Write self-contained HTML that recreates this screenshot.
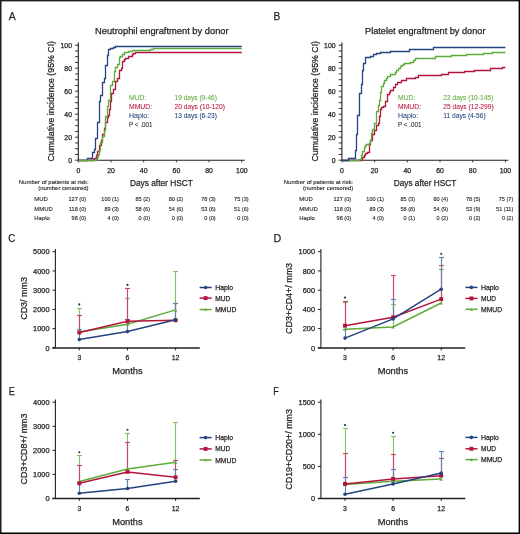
<!DOCTYPE html>
<html><head><meta charset="utf-8"><title>Figure</title><style>html,body{margin:0;padding:0;background:#fff;width:520px;height:534px;overflow:hidden;}body{position:relative;font-family:"Liberation Sans", sans-serif;}</style></head><body>
<svg width="520" height="534" viewBox="0 0 520 534" style="position:absolute;left:0;top:0;font-family:'Liberation Sans', sans-serif;will-change:transform;">
<rect x="0" y="0" width="520" height="534" fill="#ffffff"/>
<text x="8.80" y="19.80" font-size="11.2" text-anchor="start" fill="#231f20" stroke="#231f20" stroke-width="0.25" textLength="7.00" lengthAdjust="spacingAndGlyphs">A</text>
<text x="95.00" y="33.90" font-size="9.0" text-anchor="start" fill="#231f20" stroke="#231f20" stroke-width="0.25" textLength="133.60" lengthAdjust="spacingAndGlyphs">Neutrophil engraftment by donor</text>
<text transform="translate(54.10,101.30) rotate(-90)" x="0" y="0" font-size="9.4" text-anchor="middle" fill="#231f20" stroke="#231f20" stroke-width="0.25" textLength="120.60" lengthAdjust="spacingAndGlyphs">Cumulative incidence (95% CI)</text>
<line x1="78.30" y1="42.50" x2="78.30" y2="160.70" stroke="#231f20" stroke-width="1.1"/>
<line x1="75.10" y1="160.20" x2="78.30" y2="160.20" stroke="#231f20" stroke-width="0.9"/>
<line x1="75.10" y1="154.45" x2="78.30" y2="154.45" stroke="#231f20" stroke-width="0.9"/>
<line x1="75.10" y1="148.70" x2="78.30" y2="148.70" stroke="#231f20" stroke-width="0.9"/>
<line x1="75.10" y1="142.95" x2="78.30" y2="142.95" stroke="#231f20" stroke-width="0.9"/>
<line x1="75.10" y1="137.20" x2="78.30" y2="137.20" stroke="#231f20" stroke-width="0.9"/>
<line x1="75.10" y1="131.45" x2="78.30" y2="131.45" stroke="#231f20" stroke-width="0.9"/>
<line x1="75.10" y1="125.70" x2="78.30" y2="125.70" stroke="#231f20" stroke-width="0.9"/>
<line x1="75.10" y1="119.95" x2="78.30" y2="119.95" stroke="#231f20" stroke-width="0.9"/>
<line x1="75.10" y1="114.20" x2="78.30" y2="114.20" stroke="#231f20" stroke-width="0.9"/>
<line x1="75.10" y1="108.45" x2="78.30" y2="108.45" stroke="#231f20" stroke-width="0.9"/>
<line x1="75.10" y1="102.70" x2="78.30" y2="102.70" stroke="#231f20" stroke-width="0.9"/>
<line x1="75.10" y1="96.95" x2="78.30" y2="96.95" stroke="#231f20" stroke-width="0.9"/>
<line x1="75.10" y1="91.20" x2="78.30" y2="91.20" stroke="#231f20" stroke-width="0.9"/>
<line x1="75.10" y1="85.45" x2="78.30" y2="85.45" stroke="#231f20" stroke-width="0.9"/>
<line x1="75.10" y1="79.70" x2="78.30" y2="79.70" stroke="#231f20" stroke-width="0.9"/>
<line x1="75.10" y1="73.95" x2="78.30" y2="73.95" stroke="#231f20" stroke-width="0.9"/>
<line x1="75.10" y1="68.20" x2="78.30" y2="68.20" stroke="#231f20" stroke-width="0.9"/>
<line x1="75.10" y1="62.45" x2="78.30" y2="62.45" stroke="#231f20" stroke-width="0.9"/>
<line x1="75.10" y1="56.70" x2="78.30" y2="56.70" stroke="#231f20" stroke-width="0.9"/>
<line x1="75.10" y1="50.95" x2="78.30" y2="50.95" stroke="#231f20" stroke-width="0.9"/>
<line x1="75.10" y1="45.20" x2="78.30" y2="45.20" stroke="#231f20" stroke-width="0.9"/>
<text x="72.00" y="162.65" font-size="6.9" text-anchor="end" fill="#231f20" stroke="#231f20" stroke-width="0.25">0</text>
<text x="72.00" y="139.65" font-size="6.9" text-anchor="end" fill="#231f20" stroke="#231f20" stroke-width="0.25">20</text>
<text x="72.00" y="116.65" font-size="6.9" text-anchor="end" fill="#231f20" stroke="#231f20" stroke-width="0.25">40</text>
<text x="72.00" y="93.65" font-size="6.9" text-anchor="end" fill="#231f20" stroke="#231f20" stroke-width="0.25">60</text>
<text x="72.00" y="70.65" font-size="6.9" text-anchor="end" fill="#231f20" stroke="#231f20" stroke-width="0.25">80</text>
<text x="72.00" y="47.65" font-size="6.9" text-anchor="end" fill="#231f20" stroke="#231f20" stroke-width="0.25">100</text>
<line x1="77.80" y1="160.20" x2="244.80" y2="160.20" stroke="#231f20" stroke-width="1.1"/>
<line x1="78.30" y1="160.20" x2="78.30" y2="162.40" stroke="#231f20" stroke-width="0.9"/>
<text x="78.30" y="173.00" font-size="6.9" text-anchor="middle" fill="#231f20" stroke="#231f20" stroke-width="0.25">0</text>
<line x1="111.00" y1="160.20" x2="111.00" y2="162.40" stroke="#231f20" stroke-width="0.9"/>
<text x="111.00" y="173.00" font-size="6.9" text-anchor="middle" fill="#231f20" stroke="#231f20" stroke-width="0.25">20</text>
<line x1="143.70" y1="160.20" x2="143.70" y2="162.40" stroke="#231f20" stroke-width="0.9"/>
<text x="143.70" y="173.00" font-size="6.9" text-anchor="middle" fill="#231f20" stroke="#231f20" stroke-width="0.25">40</text>
<line x1="176.40" y1="160.20" x2="176.40" y2="162.40" stroke="#231f20" stroke-width="0.9"/>
<text x="176.40" y="173.00" font-size="6.9" text-anchor="middle" fill="#231f20" stroke="#231f20" stroke-width="0.25">60</text>
<line x1="209.10" y1="160.20" x2="209.10" y2="162.40" stroke="#231f20" stroke-width="0.9"/>
<text x="209.10" y="173.00" font-size="6.9" text-anchor="middle" fill="#231f20" stroke="#231f20" stroke-width="0.25">80</text>
<line x1="241.80" y1="160.20" x2="241.80" y2="162.40" stroke="#231f20" stroke-width="0.9"/>
<text x="241.80" y="173.00" font-size="6.9" text-anchor="middle" fill="#231f20" stroke="#231f20" stroke-width="0.25">100</text>
<path d="M78.50,160.50H87.50V158.50H92.50V152.50H94.50V149.50H95.50V138.50H97.50V122.50H99.50V101.50H100.50V95.50H102.50V82.50H104.50V78.50H105.50V65.50H107.50V55.50H108.50V49.50H110.50V48.50H113.50V47.50H115.50V46.50H241.80" fill="none" stroke="#25437f" stroke-width="1.3" stroke-linejoin="miter" stroke-linecap="butt"/>
<path d="M78.50,160.50H93.50V159.50H94.50V158.50H96.50V155.50H97.50V151.50H99.50V145.50H101.50V140.50H102.50V134.50H104.50V128.50H105.50V122.50H107.50V117.50H108.50V115.50H109.50V109.50H110.50V101.50H111.50V93.50H113.50V89.50H115.50V81.50H117.50V78.50H119.50V70.50H121.50V68.50H122.50V61.50H124.50V59.50H125.50V58.50H128.50V56.50H132.50V54.50H133.50V53.50H135.50V52.50H138.50V52.50H241.80" fill="none" stroke="#b3143d" stroke-width="1.3" stroke-linejoin="miter" stroke-linecap="butt"/>
<path d="M78.50,160.50H96.50V159.50H97.50V157.50H98.50V156.50H98.50V154.50H99.50V153.50H99.50V150.50H100.50V142.50H102.50V136.50H104.50V130.50H105.50V116.50H107.50V106.50H108.50V100.50H110.50V85.50H112.50V81.50H114.50V71.50H115.50V67.50H117.50V64.50H119.50V57.50H120.50V56.50H122.50V54.50H124.50V52.50H128.50V51.50H132.50V50.50H150.50V49.50H153.50V48.50H241.80" fill="none" stroke="#5eab3b" stroke-width="1.3" stroke-linejoin="miter" stroke-linecap="butt"/>
<text x="129.00" y="99.70" font-size="7.0" text-anchor="start" fill="#5eab3b" stroke="#5eab3b" stroke-width="0.06" textLength="17.30" lengthAdjust="spacingAndGlyphs">MUD:</text>
<text x="129.00" y="108.60" font-size="7.0" text-anchor="start" fill="#b3143d" stroke="#b3143d" stroke-width="0.06" textLength="23.10" lengthAdjust="spacingAndGlyphs">MMUD:</text>
<text x="129.00" y="117.60" font-size="7.0" text-anchor="start" fill="#25437f" stroke="#25437f" stroke-width="0.06" textLength="20.20" lengthAdjust="spacingAndGlyphs">Haplo:</text>
<text x="129.00" y="126.50" font-size="7.0" text-anchor="start" fill="#231f20" stroke="#231f20" stroke-width="0.06" textLength="23.50" lengthAdjust="spacingAndGlyphs">P &lt; .001</text>
<text x="174.60" y="99.70" font-size="7.0" text-anchor="start" fill="#5eab3b" stroke="#5eab3b" stroke-width="0.06" textLength="42.30" lengthAdjust="spacingAndGlyphs">19 days (9-46)</text>
<text x="174.60" y="108.60" font-size="7.0" text-anchor="start" fill="#b3143d" stroke="#b3143d" stroke-width="0.06" textLength="50.40" lengthAdjust="spacingAndGlyphs">20 days (10-120)</text>
<text x="174.60" y="117.60" font-size="7.0" text-anchor="start" fill="#25437f" stroke="#25437f" stroke-width="0.06" textLength="42.30" lengthAdjust="spacingAndGlyphs">13 days (6-23)</text>
<text x="130.00" y="186.40" font-size="9.0" text-anchor="start" fill="#231f20" stroke="#231f20" stroke-width="0.25" textLength="62.80" lengthAdjust="spacingAndGlyphs">Days after HSCT</text>
<text x="88.60" y="183.50" font-size="5.95" text-anchor="end" fill="#231f20" stroke="#231f20" stroke-width="0.12" textLength="69.80" lengthAdjust="spacingAndGlyphs">Number of patients at risk:</text>
<text x="88.60" y="190.40" font-size="5.95" text-anchor="end" fill="#231f20" stroke="#231f20" stroke-width="0.12" textLength="50.40" lengthAdjust="spacingAndGlyphs">(number censored)</text>
<text x="34.30" y="201.00" font-size="6.0" text-anchor="start" fill="#231f20" stroke="#231f20" stroke-width="0.12" textLength="13.53" lengthAdjust="spacingAndGlyphs">MUD</text>
<text x="86.10" y="201.00" font-size="6.0" text-anchor="end" fill="#231f20" stroke="#231f20" stroke-width="0.12" textLength="17.60" lengthAdjust="spacingAndGlyphs">127 (0)</text>
<text x="118.90" y="201.00" font-size="6.0" text-anchor="end" fill="#231f20" stroke="#231f20" stroke-width="0.12" textLength="17.60" lengthAdjust="spacingAndGlyphs">100 (1)</text>
<text x="150.00" y="201.00" font-size="6.0" text-anchor="end" fill="#231f20" stroke="#231f20" stroke-width="0.12" textLength="14.51" lengthAdjust="spacingAndGlyphs">85 (2)</text>
<text x="183.20" y="201.00" font-size="6.0" text-anchor="end" fill="#231f20" stroke="#231f20" stroke-width="0.12" textLength="14.51" lengthAdjust="spacingAndGlyphs">80 (2)</text>
<text x="215.70" y="201.00" font-size="6.0" text-anchor="end" fill="#231f20" stroke="#231f20" stroke-width="0.12" textLength="14.51" lengthAdjust="spacingAndGlyphs">78 (3)</text>
<text x="248.60" y="201.00" font-size="6.0" text-anchor="end" fill="#231f20" stroke="#231f20" stroke-width="0.12" textLength="14.51" lengthAdjust="spacingAndGlyphs">75 (3)</text>
<text x="34.30" y="210.70" font-size="6.0" text-anchor="start" fill="#231f20" stroke="#231f20" stroke-width="0.12" textLength="18.48" lengthAdjust="spacingAndGlyphs">MMUD</text>
<text x="86.10" y="210.70" font-size="6.0" text-anchor="end" fill="#231f20" stroke="#231f20" stroke-width="0.12" textLength="17.19" lengthAdjust="spacingAndGlyphs">118 (0)</text>
<text x="118.90" y="210.70" font-size="6.0" text-anchor="end" fill="#231f20" stroke="#231f20" stroke-width="0.12" textLength="14.51" lengthAdjust="spacingAndGlyphs">89 (3)</text>
<text x="150.00" y="210.70" font-size="6.0" text-anchor="end" fill="#231f20" stroke="#231f20" stroke-width="0.12" textLength="14.51" lengthAdjust="spacingAndGlyphs">58 (6)</text>
<text x="183.20" y="210.70" font-size="6.0" text-anchor="end" fill="#231f20" stroke="#231f20" stroke-width="0.12" textLength="14.51" lengthAdjust="spacingAndGlyphs">54 (6)</text>
<text x="215.70" y="210.70" font-size="6.0" text-anchor="end" fill="#231f20" stroke="#231f20" stroke-width="0.12" textLength="14.51" lengthAdjust="spacingAndGlyphs">53 (6)</text>
<text x="248.60" y="210.70" font-size="6.0" text-anchor="end" fill="#231f20" stroke="#231f20" stroke-width="0.12" textLength="14.51" lengthAdjust="spacingAndGlyphs">51 (6)</text>
<text x="34.30" y="220.30" font-size="6.0" text-anchor="start" fill="#231f20" stroke="#231f20" stroke-width="0.12" textLength="15.52" lengthAdjust="spacingAndGlyphs">Haplo</text>
<text x="86.10" y="220.30" font-size="6.0" text-anchor="end" fill="#231f20" stroke="#231f20" stroke-width="0.12" textLength="14.51" lengthAdjust="spacingAndGlyphs">98 (0)</text>
<text x="118.90" y="220.30" font-size="6.0" text-anchor="end" fill="#231f20" stroke="#231f20" stroke-width="0.12" textLength="11.42" lengthAdjust="spacingAndGlyphs">4 (0)</text>
<text x="150.00" y="220.30" font-size="6.0" text-anchor="end" fill="#231f20" stroke="#231f20" stroke-width="0.12" textLength="11.42" lengthAdjust="spacingAndGlyphs">0 (0)</text>
<text x="183.20" y="220.30" font-size="6.0" text-anchor="end" fill="#231f20" stroke="#231f20" stroke-width="0.12" textLength="11.42" lengthAdjust="spacingAndGlyphs">0 (0)</text>
<text x="215.70" y="220.30" font-size="6.0" text-anchor="end" fill="#231f20" stroke="#231f20" stroke-width="0.12" textLength="11.42" lengthAdjust="spacingAndGlyphs">0 (0)</text>
<text x="248.60" y="220.30" font-size="6.0" text-anchor="end" fill="#231f20" stroke="#231f20" stroke-width="0.12" textLength="11.42" lengthAdjust="spacingAndGlyphs">0 (0)</text>
<text x="273.40" y="19.80" font-size="11.2" text-anchor="start" fill="#231f20" stroke="#231f20" stroke-width="0.25" textLength="6.80" lengthAdjust="spacingAndGlyphs">B</text>
<text x="365.00" y="33.90" font-size="9.0" text-anchor="start" fill="#231f20" stroke="#231f20" stroke-width="0.25" textLength="120.50" lengthAdjust="spacingAndGlyphs">Platelet engraftment by donor</text>
<text transform="translate(317.50,101.30) rotate(-90)" x="0" y="0" font-size="9.4" text-anchor="middle" fill="#231f20" stroke="#231f20" stroke-width="0.25" textLength="120.60" lengthAdjust="spacingAndGlyphs">Cumulative incidence (95% CI)</text>
<line x1="341.90" y1="42.50" x2="341.90" y2="160.70" stroke="#231f20" stroke-width="1.1"/>
<line x1="338.70" y1="160.20" x2="341.90" y2="160.20" stroke="#231f20" stroke-width="0.9"/>
<line x1="338.70" y1="154.45" x2="341.90" y2="154.45" stroke="#231f20" stroke-width="0.9"/>
<line x1="338.70" y1="148.70" x2="341.90" y2="148.70" stroke="#231f20" stroke-width="0.9"/>
<line x1="338.70" y1="142.95" x2="341.90" y2="142.95" stroke="#231f20" stroke-width="0.9"/>
<line x1="338.70" y1="137.20" x2="341.90" y2="137.20" stroke="#231f20" stroke-width="0.9"/>
<line x1="338.70" y1="131.45" x2="341.90" y2="131.45" stroke="#231f20" stroke-width="0.9"/>
<line x1="338.70" y1="125.70" x2="341.90" y2="125.70" stroke="#231f20" stroke-width="0.9"/>
<line x1="338.70" y1="119.95" x2="341.90" y2="119.95" stroke="#231f20" stroke-width="0.9"/>
<line x1="338.70" y1="114.20" x2="341.90" y2="114.20" stroke="#231f20" stroke-width="0.9"/>
<line x1="338.70" y1="108.45" x2="341.90" y2="108.45" stroke="#231f20" stroke-width="0.9"/>
<line x1="338.70" y1="102.70" x2="341.90" y2="102.70" stroke="#231f20" stroke-width="0.9"/>
<line x1="338.70" y1="96.95" x2="341.90" y2="96.95" stroke="#231f20" stroke-width="0.9"/>
<line x1="338.70" y1="91.20" x2="341.90" y2="91.20" stroke="#231f20" stroke-width="0.9"/>
<line x1="338.70" y1="85.45" x2="341.90" y2="85.45" stroke="#231f20" stroke-width="0.9"/>
<line x1="338.70" y1="79.70" x2="341.90" y2="79.70" stroke="#231f20" stroke-width="0.9"/>
<line x1="338.70" y1="73.95" x2="341.90" y2="73.95" stroke="#231f20" stroke-width="0.9"/>
<line x1="338.70" y1="68.20" x2="341.90" y2="68.20" stroke="#231f20" stroke-width="0.9"/>
<line x1="338.70" y1="62.45" x2="341.90" y2="62.45" stroke="#231f20" stroke-width="0.9"/>
<line x1="338.70" y1="56.70" x2="341.90" y2="56.70" stroke="#231f20" stroke-width="0.9"/>
<line x1="338.70" y1="50.95" x2="341.90" y2="50.95" stroke="#231f20" stroke-width="0.9"/>
<line x1="338.70" y1="45.20" x2="341.90" y2="45.20" stroke="#231f20" stroke-width="0.9"/>
<text x="335.60" y="162.65" font-size="6.9" text-anchor="end" fill="#231f20" stroke="#231f20" stroke-width="0.25">0</text>
<text x="335.60" y="139.65" font-size="6.9" text-anchor="end" fill="#231f20" stroke="#231f20" stroke-width="0.25">20</text>
<text x="335.60" y="116.65" font-size="6.9" text-anchor="end" fill="#231f20" stroke="#231f20" stroke-width="0.25">40</text>
<text x="335.60" y="93.65" font-size="6.9" text-anchor="end" fill="#231f20" stroke="#231f20" stroke-width="0.25">60</text>
<text x="335.60" y="70.65" font-size="6.9" text-anchor="end" fill="#231f20" stroke="#231f20" stroke-width="0.25">80</text>
<text x="335.60" y="47.65" font-size="6.9" text-anchor="end" fill="#231f20" stroke="#231f20" stroke-width="0.25">100</text>
<line x1="341.40" y1="160.20" x2="508.40" y2="160.20" stroke="#231f20" stroke-width="1.1"/>
<line x1="341.90" y1="160.20" x2="341.90" y2="162.40" stroke="#231f20" stroke-width="0.9"/>
<text x="341.90" y="173.00" font-size="6.9" text-anchor="middle" fill="#231f20" stroke="#231f20" stroke-width="0.25">0</text>
<line x1="374.60" y1="160.20" x2="374.60" y2="162.40" stroke="#231f20" stroke-width="0.9"/>
<text x="374.60" y="173.00" font-size="6.9" text-anchor="middle" fill="#231f20" stroke="#231f20" stroke-width="0.25">20</text>
<line x1="407.30" y1="160.20" x2="407.30" y2="162.40" stroke="#231f20" stroke-width="0.9"/>
<text x="407.30" y="173.00" font-size="6.9" text-anchor="middle" fill="#231f20" stroke="#231f20" stroke-width="0.25">40</text>
<line x1="440.00" y1="160.20" x2="440.00" y2="162.40" stroke="#231f20" stroke-width="0.9"/>
<text x="440.00" y="173.00" font-size="6.9" text-anchor="middle" fill="#231f20" stroke="#231f20" stroke-width="0.25">60</text>
<line x1="472.70" y1="160.20" x2="472.70" y2="162.40" stroke="#231f20" stroke-width="0.9"/>
<text x="472.70" y="173.00" font-size="6.9" text-anchor="middle" fill="#231f20" stroke="#231f20" stroke-width="0.25">80</text>
<line x1="505.40" y1="160.20" x2="505.40" y2="162.40" stroke="#231f20" stroke-width="0.9"/>
<text x="505.40" y="173.00" font-size="6.9" text-anchor="middle" fill="#231f20" stroke="#231f20" stroke-width="0.25">100</text>
<path d="M341.50,160.50H361.50V159.50H362.50V157.50H364.50V155.50H365.50V153.50H367.50V152.50H369.50V144.50H370.50V140.50H372.50V134.50H374.50V130.50H376.50V125.50H378.50V123.50H379.50V116.50H380.50V109.50H381.50V107.50H383.50V106.50H385.50V101.50H387.50V98.50H387.50V94.50H389.50V92.50H390.50V90.50H393.50V87.50H395.50V84.50H397.50V82.50H401.50V80.50H406.50V78.50H415.50V77.50H418.50V75.50H441.50V74.50H448.50V72.50H464.50V71.50H474.50V70.50H490.50V68.50H502.50V67.50H505.40" fill="none" stroke="#b3143d" stroke-width="1.3" stroke-linejoin="miter" stroke-linecap="butt"/>
<path d="M341.50,160.50H359.50V159.50H361.50V155.50H362.50V151.50H364.50V147.50H365.50V145.50H366.50V144.50H369.50V143.50H370.50V140.50H371.50V133.50H372.50V129.50H374.50V123.50H376.50V111.50H378.50V105.50H379.50V100.50H380.50V92.50H381.50V86.50H383.50V83.50H384.50V80.50H386.50V78.50H387.50V76.50H390.50V74.50H395.50V72.50H396.50V70.50H398.50V68.50H400.50V66.50H401.50V65.50H403.50V64.50H404.50V63.50H410.50V62.50H413.50V60.50H415.50V58.50H435.50V56.50H451.50V55.50H466.50V54.50H483.50V53.50H492.50V52.50H505.40" fill="none" stroke="#5eab3b" stroke-width="1.3" stroke-linejoin="miter" stroke-linecap="butt"/>
<path d="M341.50,160.50H348.50V158.50H355.50V150.50H356.50V134.50H357.50V115.50H359.50V93.50H361.50V84.50H362.50V70.50H363.50V63.50H365.50V57.50H370.50V56.50H373.50V54.50H376.50V53.50H380.50V52.50H390.50V51.50H409.50V49.50H433.50V47.50H505.40" fill="none" stroke="#25437f" stroke-width="1.3" stroke-linejoin="miter" stroke-linecap="butt"/>
<text x="398.00" y="99.70" font-size="7.0" text-anchor="start" fill="#5eab3b" stroke="#5eab3b" stroke-width="0.06" textLength="17.30" lengthAdjust="spacingAndGlyphs">MUD:</text>
<text x="398.00" y="108.60" font-size="7.0" text-anchor="start" fill="#b3143d" stroke="#b3143d" stroke-width="0.06" textLength="23.10" lengthAdjust="spacingAndGlyphs">MMUD:</text>
<text x="398.00" y="117.60" font-size="7.0" text-anchor="start" fill="#25437f" stroke="#25437f" stroke-width="0.06" textLength="20.20" lengthAdjust="spacingAndGlyphs">Haplo:</text>
<text x="398.00" y="126.50" font-size="7.0" text-anchor="start" fill="#231f20" stroke="#231f20" stroke-width="0.06" textLength="23.50" lengthAdjust="spacingAndGlyphs">P &lt; .001</text>
<text x="443.30" y="99.70" font-size="7.0" text-anchor="start" fill="#5eab3b" stroke="#5eab3b" stroke-width="0.06" textLength="49.90" lengthAdjust="spacingAndGlyphs">22 days (10-145)</text>
<text x="443.30" y="108.60" font-size="7.0" text-anchor="start" fill="#b3143d" stroke="#b3143d" stroke-width="0.06" textLength="50.40" lengthAdjust="spacingAndGlyphs">25 days (12-299)</text>
<text x="443.30" y="117.60" font-size="7.0" text-anchor="start" fill="#25437f" stroke="#25437f" stroke-width="0.06" textLength="42.30" lengthAdjust="spacingAndGlyphs">11 days (4-56)</text>
<text x="393.70" y="186.40" font-size="9.0" text-anchor="start" fill="#231f20" stroke="#231f20" stroke-width="0.25" textLength="62.60" lengthAdjust="spacingAndGlyphs">Days after HSCT</text>
<text x="353.30" y="183.50" font-size="5.95" text-anchor="end" fill="#231f20" stroke="#231f20" stroke-width="0.12" textLength="69.50" lengthAdjust="spacingAndGlyphs">Number of patients at risk:</text>
<text x="353.30" y="190.40" font-size="5.95" text-anchor="end" fill="#231f20" stroke="#231f20" stroke-width="0.12" textLength="50.40" lengthAdjust="spacingAndGlyphs">(number censored)</text>
<text x="299.30" y="201.00" font-size="6.0" text-anchor="start" fill="#231f20" stroke="#231f20" stroke-width="0.12" textLength="13.53" lengthAdjust="spacingAndGlyphs">MUD</text>
<text x="351.10" y="201.00" font-size="6.0" text-anchor="end" fill="#231f20" stroke="#231f20" stroke-width="0.12" textLength="17.60" lengthAdjust="spacingAndGlyphs">127 (0)</text>
<text x="383.90" y="201.00" font-size="6.0" text-anchor="end" fill="#231f20" stroke="#231f20" stroke-width="0.12" textLength="17.60" lengthAdjust="spacingAndGlyphs">100 (1)</text>
<text x="415.00" y="201.00" font-size="6.0" text-anchor="end" fill="#231f20" stroke="#231f20" stroke-width="0.12" textLength="14.51" lengthAdjust="spacingAndGlyphs">85 (3)</text>
<text x="448.00" y="201.00" font-size="6.0" text-anchor="end" fill="#231f20" stroke="#231f20" stroke-width="0.12" textLength="14.51" lengthAdjust="spacingAndGlyphs">80 (4)</text>
<text x="480.40" y="201.00" font-size="6.0" text-anchor="end" fill="#231f20" stroke="#231f20" stroke-width="0.12" textLength="14.51" lengthAdjust="spacingAndGlyphs">78 (5)</text>
<text x="513.30" y="201.00" font-size="6.0" text-anchor="end" fill="#231f20" stroke="#231f20" stroke-width="0.12" textLength="14.51" lengthAdjust="spacingAndGlyphs">75 (7)</text>
<text x="299.30" y="210.70" font-size="6.0" text-anchor="start" fill="#231f20" stroke="#231f20" stroke-width="0.12" textLength="18.48" lengthAdjust="spacingAndGlyphs">MMUD</text>
<text x="351.10" y="210.70" font-size="6.0" text-anchor="end" fill="#231f20" stroke="#231f20" stroke-width="0.12" textLength="17.19" lengthAdjust="spacingAndGlyphs">118 (0)</text>
<text x="383.90" y="210.70" font-size="6.0" text-anchor="end" fill="#231f20" stroke="#231f20" stroke-width="0.12" textLength="14.51" lengthAdjust="spacingAndGlyphs">89 (3)</text>
<text x="415.00" y="210.70" font-size="6.0" text-anchor="end" fill="#231f20" stroke="#231f20" stroke-width="0.12" textLength="14.51" lengthAdjust="spacingAndGlyphs">58 (8)</text>
<text x="448.00" y="210.70" font-size="6.0" text-anchor="end" fill="#231f20" stroke="#231f20" stroke-width="0.12" textLength="14.51" lengthAdjust="spacingAndGlyphs">54 (9)</text>
<text x="480.40" y="210.70" font-size="6.0" text-anchor="end" fill="#231f20" stroke="#231f20" stroke-width="0.12" textLength="14.51" lengthAdjust="spacingAndGlyphs">53 (9)</text>
<text x="513.30" y="210.70" font-size="6.0" text-anchor="end" fill="#231f20" stroke="#231f20" stroke-width="0.12" textLength="17.19" lengthAdjust="spacingAndGlyphs">51 (11)</text>
<text x="299.30" y="220.30" font-size="6.0" text-anchor="start" fill="#231f20" stroke="#231f20" stroke-width="0.12" textLength="15.52" lengthAdjust="spacingAndGlyphs">Haplo</text>
<text x="351.10" y="220.30" font-size="6.0" text-anchor="end" fill="#231f20" stroke="#231f20" stroke-width="0.12" textLength="14.51" lengthAdjust="spacingAndGlyphs">98 (0)</text>
<text x="383.90" y="220.30" font-size="6.0" text-anchor="end" fill="#231f20" stroke="#231f20" stroke-width="0.12" textLength="11.42" lengthAdjust="spacingAndGlyphs">4 (0)</text>
<text x="415.00" y="220.30" font-size="6.0" text-anchor="end" fill="#231f20" stroke="#231f20" stroke-width="0.12" textLength="11.42" lengthAdjust="spacingAndGlyphs">0 (1)</text>
<text x="448.00" y="220.30" font-size="6.0" text-anchor="end" fill="#231f20" stroke="#231f20" stroke-width="0.12" textLength="11.42" lengthAdjust="spacingAndGlyphs">0 (2)</text>
<text x="480.40" y="220.30" font-size="6.0" text-anchor="end" fill="#231f20" stroke="#231f20" stroke-width="0.12" textLength="11.42" lengthAdjust="spacingAndGlyphs">0 (2)</text>
<text x="513.30" y="220.30" font-size="6.0" text-anchor="end" fill="#231f20" stroke="#231f20" stroke-width="0.12" textLength="11.42" lengthAdjust="spacingAndGlyphs">0 (2)</text>
<text x="8.30" y="241.60" font-size="11.0" text-anchor="start" fill="#231f20" stroke="#231f20" stroke-width="0.25" textLength="7.10" lengthAdjust="spacingAndGlyphs">C</text>
<text transform="translate(27.00,298.45) rotate(-90)" x="0" y="0" font-size="9.6" text-anchor="middle" fill="#231f20" stroke="#231f20" stroke-width="0.25" textLength="42.70" lengthAdjust="spacingAndGlyphs">CD3/ mm3</text>
<line x1="55.40" y1="249.00" x2="55.40" y2="347.90" stroke="#231f20" stroke-width="1.1"/>
<line x1="52.40" y1="347.90" x2="55.40" y2="347.90" stroke="#231f20" stroke-width="1.0"/>
<text x="49.50" y="350.65" font-size="7.4" text-anchor="end" fill="#231f20" stroke="#231f20" stroke-width="0.25">0</text>
<line x1="52.40" y1="328.66" x2="55.40" y2="328.66" stroke="#231f20" stroke-width="1.0"/>
<text x="49.50" y="331.41" font-size="7.4" text-anchor="end" fill="#231f20" stroke="#231f20" stroke-width="0.25">1000</text>
<line x1="52.40" y1="309.42" x2="55.40" y2="309.42" stroke="#231f20" stroke-width="1.0"/>
<text x="49.50" y="312.17" font-size="7.4" text-anchor="end" fill="#231f20" stroke="#231f20" stroke-width="0.25">2000</text>
<line x1="52.40" y1="290.18" x2="55.40" y2="290.18" stroke="#231f20" stroke-width="1.0"/>
<text x="49.50" y="292.93" font-size="7.4" text-anchor="end" fill="#231f20" stroke="#231f20" stroke-width="0.25">3000</text>
<line x1="52.40" y1="270.94" x2="55.40" y2="270.94" stroke="#231f20" stroke-width="1.0"/>
<text x="49.50" y="273.69" font-size="7.4" text-anchor="end" fill="#231f20" stroke="#231f20" stroke-width="0.25">4000</text>
<line x1="52.40" y1="251.70" x2="55.40" y2="251.70" stroke="#231f20" stroke-width="1.0"/>
<text x="49.50" y="254.45" font-size="7.4" text-anchor="end" fill="#231f20" stroke="#231f20" stroke-width="0.25">5000</text>
<line x1="52.40" y1="347.90" x2="199.80" y2="347.90" stroke="#231f20" stroke-width="1.5"/>
<line x1="79.30" y1="347.90" x2="79.30" y2="350.30" stroke="#231f20" stroke-width="1.0"/>
<text x="79.30" y="360.30" font-size="6.9" text-anchor="middle" fill="#231f20" stroke="#231f20" stroke-width="0.25">3</text>
<line x1="127.50" y1="347.90" x2="127.50" y2="350.30" stroke="#231f20" stroke-width="1.0"/>
<text x="127.50" y="360.30" font-size="6.9" text-anchor="middle" fill="#231f20" stroke="#231f20" stroke-width="0.25">6</text>
<line x1="175.60" y1="347.90" x2="175.60" y2="350.30" stroke="#231f20" stroke-width="1.0"/>
<text x="175.60" y="360.30" font-size="6.9" text-anchor="middle" fill="#231f20" stroke="#231f20" stroke-width="0.25">12</text>
<text x="112.20" y="373.80" font-size="9.5" text-anchor="start" fill="#231f20" stroke="#231f20" stroke-width="0.25" textLength="30.50" lengthAdjust="spacingAndGlyphs">Months</text>
<line x1="79.50" y1="332.00" x2="79.50" y2="308.50" stroke="#82c164" stroke-width="1.15"/>
<line x1="77.00" y1="308.50" x2="82.00" y2="308.50" stroke="#82c164" stroke-width="1.15"/>
<line x1="127.50" y1="324.30" x2="127.50" y2="298.50" stroke="#82c164" stroke-width="1.15"/>
<line x1="125.00" y1="298.50" x2="130.00" y2="298.50" stroke="#82c164" stroke-width="1.15"/>
<line x1="175.50" y1="309.90" x2="175.50" y2="271.50" stroke="#82c164" stroke-width="1.15"/>
<line x1="173.00" y1="271.50" x2="178.00" y2="271.50" stroke="#82c164" stroke-width="1.15"/>
<line x1="79.50" y1="332.50" x2="79.50" y2="315.50" stroke="#c8476f" stroke-width="1.15"/>
<line x1="77.00" y1="315.50" x2="82.00" y2="315.50" stroke="#c8476f" stroke-width="1.15"/>
<line x1="127.50" y1="321.30" x2="127.50" y2="288.50" stroke="#c8476f" stroke-width="1.15"/>
<line x1="125.00" y1="288.50" x2="130.00" y2="288.50" stroke="#c8476f" stroke-width="1.15"/>
<line x1="175.50" y1="320.30" x2="175.50" y2="303.50" stroke="#c8476f" stroke-width="1.15"/>
<line x1="173.00" y1="303.50" x2="178.00" y2="303.50" stroke="#c8476f" stroke-width="1.15"/>
<line x1="79.50" y1="339.60" x2="79.50" y2="329.50" stroke="#6482b8" stroke-width="1.15"/>
<line x1="77.00" y1="329.50" x2="82.00" y2="329.50" stroke="#6482b8" stroke-width="1.15"/>
<line x1="127.50" y1="331.60" x2="127.50" y2="319.50" stroke="#6482b8" stroke-width="1.15"/>
<line x1="125.00" y1="319.50" x2="130.00" y2="319.50" stroke="#6482b8" stroke-width="1.15"/>
<line x1="175.50" y1="319.70" x2="175.50" y2="303.50" stroke="#6482b8" stroke-width="1.15"/>
<line x1="173.00" y1="303.50" x2="178.00" y2="303.50" stroke="#6482b8" stroke-width="1.15"/>
<polyline points="79.30,332.00 127.50,324.30 175.60,309.90" fill="none" stroke="#5eab3b" stroke-width="1.5"/>
<path d="M77.60,333.53L81.00,333.53L79.30,330.47Z" fill="#5eab3b"/>
<path d="M125.80,325.83L129.20,325.83L127.50,322.77Z" fill="#5eab3b"/>
<path d="M173.90,311.43L177.30,311.43L175.60,308.37Z" fill="#5eab3b"/>
<polyline points="79.30,332.50 127.50,321.30 175.60,320.30" fill="none" stroke="#b3143d" stroke-width="1.5"/>
<rect x="77.35" y="330.55" width="3.9" height="3.9" fill="#b3143d"/>
<rect x="125.55" y="319.35" width="3.9" height="3.9" fill="#b3143d"/>
<rect x="173.65" y="318.35" width="3.9" height="3.9" fill="#b3143d"/>
<polyline points="79.30,339.60 127.50,331.60 175.60,319.70" fill="none" stroke="#25437f" stroke-width="1.5"/>
<circle cx="79.30" cy="339.60" r="1.8" fill="#25437f"/>
<circle cx="127.50" cy="331.60" r="1.8" fill="#25437f"/>
<circle cx="175.60" cy="319.70" r="1.8" fill="#25437f"/>
<circle cx="79.30" cy="304.40" r="1.05" fill="#303030"/>
<circle cx="127.50" cy="284.90" r="1.05" fill="#303030"/>
<line x1="199.60" y1="287.50" x2="211.70" y2="287.50" stroke="#25437f" stroke-width="1.5"/>
<circle cx="205.60" cy="287.50" r="1.8" fill="#25437f"/>
<text x="215.20" y="290.00" font-size="7.5" text-anchor="start" fill="#231f20" stroke="#231f20" stroke-width="0.25" textLength="17.90" lengthAdjust="spacingAndGlyphs">Haplo</text>
<line x1="199.60" y1="298.10" x2="211.70" y2="298.10" stroke="#b3143d" stroke-width="1.5"/>
<rect x="203.65" y="296.15" width="3.9" height="3.9" fill="#b3143d"/>
<text x="215.20" y="300.60" font-size="7.5" text-anchor="start" fill="#231f20" stroke="#231f20" stroke-width="0.25" textLength="15.00" lengthAdjust="spacingAndGlyphs">MUD</text>
<line x1="199.60" y1="309.50" x2="211.70" y2="309.50" stroke="#5eab3b" stroke-width="1.5"/>
<path d="M204.10,310.85L207.10,310.85L205.60,308.15Z" fill="#5eab3b"/>
<text x="215.20" y="312.00" font-size="7.5" text-anchor="start" fill="#231f20" stroke="#231f20" stroke-width="0.25" textLength="21.10" lengthAdjust="spacingAndGlyphs">MMUD</text>
<text x="273.40" y="241.50" font-size="11.0" text-anchor="start" fill="#231f20" stroke="#231f20" stroke-width="0.25" textLength="7.70" lengthAdjust="spacingAndGlyphs">D</text>
<text transform="translate(292.10,298.40) rotate(-90)" x="0" y="0" font-size="9.6" text-anchor="middle" fill="#231f20" stroke="#231f20" stroke-width="0.25" textLength="71.00" lengthAdjust="spacingAndGlyphs">CD3+CD4+/ mm3</text>
<line x1="320.90" y1="249.00" x2="320.90" y2="347.90" stroke="#231f20" stroke-width="1.1"/>
<line x1="317.90" y1="347.90" x2="320.90" y2="347.90" stroke="#231f20" stroke-width="1.0"/>
<text x="315.00" y="350.65" font-size="7.4" text-anchor="end" fill="#231f20" stroke="#231f20" stroke-width="0.25">0</text>
<line x1="317.90" y1="328.66" x2="320.90" y2="328.66" stroke="#231f20" stroke-width="1.0"/>
<text x="315.00" y="331.41" font-size="7.4" text-anchor="end" fill="#231f20" stroke="#231f20" stroke-width="0.25">200</text>
<line x1="317.90" y1="309.42" x2="320.90" y2="309.42" stroke="#231f20" stroke-width="1.0"/>
<text x="315.00" y="312.17" font-size="7.4" text-anchor="end" fill="#231f20" stroke="#231f20" stroke-width="0.25">400</text>
<line x1="317.90" y1="290.18" x2="320.90" y2="290.18" stroke="#231f20" stroke-width="1.0"/>
<text x="315.00" y="292.93" font-size="7.4" text-anchor="end" fill="#231f20" stroke="#231f20" stroke-width="0.25">600</text>
<line x1="317.90" y1="270.94" x2="320.90" y2="270.94" stroke="#231f20" stroke-width="1.0"/>
<text x="315.00" y="273.69" font-size="7.4" text-anchor="end" fill="#231f20" stroke="#231f20" stroke-width="0.25">800</text>
<line x1="317.90" y1="251.70" x2="320.90" y2="251.70" stroke="#231f20" stroke-width="1.0"/>
<text x="315.00" y="254.45" font-size="7.4" text-anchor="end" fill="#231f20" stroke="#231f20" stroke-width="0.25">1000</text>
<line x1="317.90" y1="347.90" x2="465.30" y2="347.90" stroke="#231f20" stroke-width="1.5"/>
<line x1="345.00" y1="347.90" x2="345.00" y2="350.30" stroke="#231f20" stroke-width="1.0"/>
<text x="345.00" y="360.30" font-size="6.9" text-anchor="middle" fill="#231f20" stroke="#231f20" stroke-width="0.25">3</text>
<line x1="393.10" y1="347.90" x2="393.10" y2="350.30" stroke="#231f20" stroke-width="1.0"/>
<text x="393.10" y="360.30" font-size="6.9" text-anchor="middle" fill="#231f20" stroke="#231f20" stroke-width="0.25">6</text>
<line x1="441.20" y1="347.90" x2="441.20" y2="350.30" stroke="#231f20" stroke-width="1.0"/>
<text x="441.20" y="360.30" font-size="6.9" text-anchor="middle" fill="#231f20" stroke="#231f20" stroke-width="0.25">12</text>
<text x="377.70" y="373.80" font-size="9.5" text-anchor="start" fill="#231f20" stroke="#231f20" stroke-width="0.25" textLength="30.50" lengthAdjust="spacingAndGlyphs">Months</text>
<line x1="345.50" y1="329.30" x2="345.50" y2="302.50" stroke="#82c164" stroke-width="1.15"/>
<line x1="343.00" y1="302.50" x2="348.00" y2="302.50" stroke="#82c164" stroke-width="1.15"/>
<line x1="393.50" y1="327.00" x2="393.50" y2="304.50" stroke="#82c164" stroke-width="1.15"/>
<line x1="391.00" y1="304.50" x2="396.00" y2="304.50" stroke="#82c164" stroke-width="1.15"/>
<line x1="441.50" y1="303.00" x2="441.50" y2="269.50" stroke="#82c164" stroke-width="1.15"/>
<line x1="439.00" y1="269.50" x2="444.00" y2="269.50" stroke="#82c164" stroke-width="1.15"/>
<line x1="345.50" y1="325.70" x2="345.50" y2="301.50" stroke="#c8476f" stroke-width="1.15"/>
<line x1="343.00" y1="301.50" x2="348.00" y2="301.50" stroke="#c8476f" stroke-width="1.15"/>
<line x1="393.50" y1="317.30" x2="393.50" y2="275.50" stroke="#c8476f" stroke-width="1.15"/>
<line x1="391.00" y1="275.50" x2="396.00" y2="275.50" stroke="#c8476f" stroke-width="1.15"/>
<line x1="441.50" y1="299.10" x2="441.50" y2="265.50" stroke="#c8476f" stroke-width="1.15"/>
<line x1="439.00" y1="265.50" x2="444.00" y2="265.50" stroke="#c8476f" stroke-width="1.15"/>
<line x1="345.50" y1="338.10" x2="345.50" y2="329.50" stroke="#6482b8" stroke-width="1.15"/>
<line x1="343.00" y1="329.50" x2="348.00" y2="329.50" stroke="#6482b8" stroke-width="1.15"/>
<line x1="393.50" y1="318.90" x2="393.50" y2="299.50" stroke="#6482b8" stroke-width="1.15"/>
<line x1="391.00" y1="299.50" x2="396.00" y2="299.50" stroke="#6482b8" stroke-width="1.15"/>
<line x1="441.50" y1="289.20" x2="441.50" y2="257.50" stroke="#6482b8" stroke-width="1.15"/>
<line x1="439.00" y1="257.50" x2="444.00" y2="257.50" stroke="#6482b8" stroke-width="1.15"/>
<polyline points="345.00,329.30 393.10,327.00 441.20,303.00" fill="none" stroke="#5eab3b" stroke-width="1.5"/>
<path d="M343.30,330.83L346.70,330.83L345.00,327.77Z" fill="#5eab3b"/>
<path d="M391.40,328.53L394.80,328.53L393.10,325.47Z" fill="#5eab3b"/>
<path d="M439.50,304.53L442.90,304.53L441.20,301.47Z" fill="#5eab3b"/>
<polyline points="345.00,325.70 393.10,317.30 441.20,299.10" fill="none" stroke="#b3143d" stroke-width="1.5"/>
<rect x="343.05" y="323.75" width="3.9" height="3.9" fill="#b3143d"/>
<rect x="391.15" y="315.35" width="3.9" height="3.9" fill="#b3143d"/>
<rect x="439.25" y="297.15" width="3.9" height="3.9" fill="#b3143d"/>
<polyline points="345.00,338.10 393.10,318.90 441.20,289.20" fill="none" stroke="#25437f" stroke-width="1.5"/>
<circle cx="345.00" cy="338.10" r="1.8" fill="#25437f"/>
<circle cx="393.10" cy="318.90" r="1.8" fill="#25437f"/>
<circle cx="441.20" cy="289.20" r="1.8" fill="#25437f"/>
<circle cx="345.00" cy="297.60" r="1.05" fill="#303030"/>
<circle cx="441.20" cy="253.80" r="1.05" fill="#303030"/>
<line x1="465.40" y1="287.40" x2="477.50" y2="287.40" stroke="#25437f" stroke-width="1.5"/>
<circle cx="471.40" cy="287.40" r="1.8" fill="#25437f"/>
<text x="481.00" y="289.90" font-size="7.5" text-anchor="start" fill="#231f20" stroke="#231f20" stroke-width="0.25" textLength="17.90" lengthAdjust="spacingAndGlyphs">Haplo</text>
<line x1="465.40" y1="298.40" x2="477.50" y2="298.40" stroke="#b3143d" stroke-width="1.5"/>
<rect x="469.45" y="296.45" width="3.9" height="3.9" fill="#b3143d"/>
<text x="481.00" y="300.90" font-size="7.5" text-anchor="start" fill="#231f20" stroke="#231f20" stroke-width="0.25" textLength="15.00" lengthAdjust="spacingAndGlyphs">MUD</text>
<line x1="465.40" y1="309.30" x2="477.50" y2="309.30" stroke="#5eab3b" stroke-width="1.5"/>
<path d="M469.90,310.65L472.90,310.65L471.40,307.95Z" fill="#5eab3b"/>
<text x="481.00" y="311.80" font-size="7.5" text-anchor="start" fill="#231f20" stroke="#231f20" stroke-width="0.25" textLength="21.10" lengthAdjust="spacingAndGlyphs">MMUD</text>
<text x="8.70" y="395.00" font-size="11.0" text-anchor="start" fill="#231f20" stroke="#231f20" stroke-width="0.25" textLength="6.10" lengthAdjust="spacingAndGlyphs">E</text>
<text transform="translate(26.90,448.95) rotate(-90)" x="0" y="0" font-size="9.6" text-anchor="middle" fill="#231f20" stroke="#231f20" stroke-width="0.25" textLength="70.90" lengthAdjust="spacingAndGlyphs">CD3+CD8+/ mm3</text>
<line x1="55.40" y1="399.50" x2="55.40" y2="498.50" stroke="#231f20" stroke-width="1.1"/>
<line x1="52.40" y1="498.50" x2="55.40" y2="498.50" stroke="#231f20" stroke-width="1.0"/>
<text x="49.50" y="501.25" font-size="7.4" text-anchor="end" fill="#231f20" stroke="#231f20" stroke-width="0.25">0</text>
<line x1="52.40" y1="474.43" x2="55.40" y2="474.43" stroke="#231f20" stroke-width="1.0"/>
<text x="49.50" y="477.18" font-size="7.4" text-anchor="end" fill="#231f20" stroke="#231f20" stroke-width="0.25">1000</text>
<line x1="52.40" y1="450.35" x2="55.40" y2="450.35" stroke="#231f20" stroke-width="1.0"/>
<text x="49.50" y="453.10" font-size="7.4" text-anchor="end" fill="#231f20" stroke="#231f20" stroke-width="0.25">2000</text>
<line x1="52.40" y1="426.27" x2="55.40" y2="426.27" stroke="#231f20" stroke-width="1.0"/>
<text x="49.50" y="429.02" font-size="7.4" text-anchor="end" fill="#231f20" stroke="#231f20" stroke-width="0.25">3000</text>
<line x1="52.40" y1="402.20" x2="55.40" y2="402.20" stroke="#231f20" stroke-width="1.0"/>
<text x="49.50" y="404.95" font-size="7.4" text-anchor="end" fill="#231f20" stroke="#231f20" stroke-width="0.25">4000</text>
<line x1="52.40" y1="498.50" x2="199.80" y2="498.50" stroke="#231f20" stroke-width="1.5"/>
<line x1="79.30" y1="498.50" x2="79.30" y2="500.90" stroke="#231f20" stroke-width="1.0"/>
<text x="79.30" y="510.90" font-size="6.9" text-anchor="middle" fill="#231f20" stroke="#231f20" stroke-width="0.25">3</text>
<line x1="127.50" y1="498.50" x2="127.50" y2="500.90" stroke="#231f20" stroke-width="1.0"/>
<text x="127.50" y="510.90" font-size="6.9" text-anchor="middle" fill="#231f20" stroke="#231f20" stroke-width="0.25">6</text>
<line x1="175.60" y1="498.50" x2="175.60" y2="500.90" stroke="#231f20" stroke-width="1.0"/>
<text x="175.60" y="510.90" font-size="6.9" text-anchor="middle" fill="#231f20" stroke="#231f20" stroke-width="0.25">12</text>
<text x="112.20" y="524.70" font-size="9.5" text-anchor="start" fill="#231f20" stroke="#231f20" stroke-width="0.25" textLength="30.50" lengthAdjust="spacingAndGlyphs">Months</text>
<line x1="79.50" y1="481.60" x2="79.50" y2="455.50" stroke="#82c164" stroke-width="1.15"/>
<line x1="77.00" y1="455.50" x2="82.00" y2="455.50" stroke="#82c164" stroke-width="1.15"/>
<line x1="127.50" y1="468.90" x2="127.50" y2="433.50" stroke="#82c164" stroke-width="1.15"/>
<line x1="125.00" y1="433.50" x2="130.00" y2="433.50" stroke="#82c164" stroke-width="1.15"/>
<line x1="175.50" y1="462.30" x2="175.50" y2="422.50" stroke="#82c164" stroke-width="1.15"/>
<line x1="173.00" y1="422.50" x2="178.00" y2="422.50" stroke="#82c164" stroke-width="1.15"/>
<line x1="79.50" y1="483.30" x2="79.50" y2="465.50" stroke="#c8476f" stroke-width="1.15"/>
<line x1="77.00" y1="465.50" x2="82.00" y2="465.50" stroke="#c8476f" stroke-width="1.15"/>
<line x1="127.50" y1="471.90" x2="127.50" y2="442.50" stroke="#c8476f" stroke-width="1.15"/>
<line x1="125.00" y1="442.50" x2="130.00" y2="442.50" stroke="#c8476f" stroke-width="1.15"/>
<line x1="175.50" y1="477.30" x2="175.50" y2="460.50" stroke="#c8476f" stroke-width="1.15"/>
<line x1="173.00" y1="460.50" x2="178.00" y2="460.50" stroke="#c8476f" stroke-width="1.15"/>
<line x1="79.50" y1="493.20" x2="79.50" y2="482.50" stroke="#6482b8" stroke-width="1.15"/>
<line x1="77.00" y1="482.50" x2="82.00" y2="482.50" stroke="#6482b8" stroke-width="1.15"/>
<line x1="127.50" y1="488.50" x2="127.50" y2="479.50" stroke="#6482b8" stroke-width="1.15"/>
<line x1="125.00" y1="479.50" x2="130.00" y2="479.50" stroke="#6482b8" stroke-width="1.15"/>
<line x1="175.50" y1="481.20" x2="175.50" y2="469.50" stroke="#6482b8" stroke-width="1.15"/>
<line x1="173.00" y1="469.50" x2="178.00" y2="469.50" stroke="#6482b8" stroke-width="1.15"/>
<polyline points="79.30,481.60 127.50,468.90 175.60,462.30" fill="none" stroke="#5eab3b" stroke-width="1.5"/>
<path d="M77.60,483.13L81.00,483.13L79.30,480.07Z" fill="#5eab3b"/>
<path d="M125.80,470.43L129.20,470.43L127.50,467.37Z" fill="#5eab3b"/>
<path d="M173.90,463.83L177.30,463.83L175.60,460.77Z" fill="#5eab3b"/>
<polyline points="79.30,483.30 127.50,471.90 175.60,477.30" fill="none" stroke="#b3143d" stroke-width="1.5"/>
<rect x="77.35" y="481.35" width="3.9" height="3.9" fill="#b3143d"/>
<rect x="125.55" y="469.95" width="3.9" height="3.9" fill="#b3143d"/>
<rect x="173.65" y="475.35" width="3.9" height="3.9" fill="#b3143d"/>
<polyline points="79.30,493.20 127.50,488.50 175.60,481.20" fill="none" stroke="#25437f" stroke-width="1.5"/>
<circle cx="79.30" cy="493.20" r="1.8" fill="#25437f"/>
<circle cx="127.50" cy="488.50" r="1.8" fill="#25437f"/>
<circle cx="175.60" cy="481.20" r="1.8" fill="#25437f"/>
<circle cx="79.30" cy="452.20" r="1.05" fill="#303030"/>
<circle cx="127.50" cy="429.70" r="1.05" fill="#303030"/>
<line x1="199.60" y1="437.60" x2="211.70" y2="437.60" stroke="#25437f" stroke-width="1.5"/>
<circle cx="205.60" cy="437.60" r="1.8" fill="#25437f"/>
<text x="215.20" y="440.10" font-size="7.5" text-anchor="start" fill="#231f20" stroke="#231f20" stroke-width="0.25" textLength="17.90" lengthAdjust="spacingAndGlyphs">Haplo</text>
<line x1="199.60" y1="448.90" x2="211.70" y2="448.90" stroke="#b3143d" stroke-width="1.5"/>
<rect x="203.65" y="446.95" width="3.9" height="3.9" fill="#b3143d"/>
<text x="215.20" y="451.40" font-size="7.5" text-anchor="start" fill="#231f20" stroke="#231f20" stroke-width="0.25" textLength="15.00" lengthAdjust="spacingAndGlyphs">MUD</text>
<line x1="199.60" y1="460.00" x2="211.70" y2="460.00" stroke="#5eab3b" stroke-width="1.5"/>
<path d="M204.10,461.35L207.10,461.35L205.60,458.65Z" fill="#5eab3b"/>
<text x="215.20" y="462.50" font-size="7.5" text-anchor="start" fill="#231f20" stroke="#231f20" stroke-width="0.25" textLength="21.10" lengthAdjust="spacingAndGlyphs">MMUD</text>
<text x="273.20" y="394.70" font-size="11.0" text-anchor="start" fill="#231f20" stroke="#231f20" stroke-width="0.25" textLength="5.50" lengthAdjust="spacingAndGlyphs">F</text>
<text transform="translate(292.00,449.35) rotate(-90)" x="0" y="0" font-size="9.6" text-anchor="middle" fill="#231f20" stroke="#231f20" stroke-width="0.25" textLength="80.70" lengthAdjust="spacingAndGlyphs">CD19+CD20+/ mm3</text>
<line x1="320.90" y1="399.50" x2="320.90" y2="498.50" stroke="#231f20" stroke-width="1.1"/>
<line x1="317.90" y1="498.50" x2="320.90" y2="498.50" stroke="#231f20" stroke-width="1.0"/>
<text x="315.00" y="501.25" font-size="7.4" text-anchor="end" fill="#231f20" stroke="#231f20" stroke-width="0.25">0</text>
<line x1="317.90" y1="466.40" x2="320.90" y2="466.40" stroke="#231f20" stroke-width="1.0"/>
<text x="315.00" y="469.15" font-size="7.4" text-anchor="end" fill="#231f20" stroke="#231f20" stroke-width="0.25">500</text>
<line x1="317.90" y1="434.30" x2="320.90" y2="434.30" stroke="#231f20" stroke-width="1.0"/>
<text x="315.00" y="437.05" font-size="7.4" text-anchor="end" fill="#231f20" stroke="#231f20" stroke-width="0.25">1000</text>
<line x1="317.90" y1="402.20" x2="320.90" y2="402.20" stroke="#231f20" stroke-width="1.0"/>
<text x="315.00" y="404.95" font-size="7.4" text-anchor="end" fill="#231f20" stroke="#231f20" stroke-width="0.25">1500</text>
<line x1="317.90" y1="498.50" x2="465.30" y2="498.50" stroke="#231f20" stroke-width="1.5"/>
<line x1="345.00" y1="498.50" x2="345.00" y2="500.90" stroke="#231f20" stroke-width="1.0"/>
<text x="345.00" y="510.90" font-size="6.9" text-anchor="middle" fill="#231f20" stroke="#231f20" stroke-width="0.25">3</text>
<line x1="393.10" y1="498.50" x2="393.10" y2="500.90" stroke="#231f20" stroke-width="1.0"/>
<text x="393.10" y="510.90" font-size="6.9" text-anchor="middle" fill="#231f20" stroke="#231f20" stroke-width="0.25">6</text>
<line x1="441.20" y1="498.50" x2="441.20" y2="500.90" stroke="#231f20" stroke-width="1.0"/>
<text x="441.20" y="510.90" font-size="6.9" text-anchor="middle" fill="#231f20" stroke="#231f20" stroke-width="0.25">12</text>
<text x="377.70" y="524.70" font-size="9.5" text-anchor="start" fill="#231f20" stroke="#231f20" stroke-width="0.25" textLength="30.50" lengthAdjust="spacingAndGlyphs">Months</text>
<line x1="345.50" y1="484.60" x2="345.50" y2="428.50" stroke="#82c164" stroke-width="1.15"/>
<line x1="343.00" y1="428.50" x2="348.00" y2="428.50" stroke="#82c164" stroke-width="1.15"/>
<line x1="393.50" y1="481.20" x2="393.50" y2="436.50" stroke="#82c164" stroke-width="1.15"/>
<line x1="391.00" y1="436.50" x2="396.00" y2="436.50" stroke="#82c164" stroke-width="1.15"/>
<line x1="345.50" y1="483.90" x2="345.50" y2="453.50" stroke="#c8476f" stroke-width="1.15"/>
<line x1="343.00" y1="453.50" x2="348.00" y2="453.50" stroke="#c8476f" stroke-width="1.15"/>
<line x1="393.50" y1="478.90" x2="393.50" y2="454.50" stroke="#c8476f" stroke-width="1.15"/>
<line x1="391.00" y1="454.50" x2="396.00" y2="454.50" stroke="#c8476f" stroke-width="1.15"/>
<line x1="441.50" y1="475.70" x2="441.50" y2="458.50" stroke="#c8476f" stroke-width="1.15"/>
<line x1="439.00" y1="458.50" x2="444.00" y2="458.50" stroke="#c8476f" stroke-width="1.15"/>
<line x1="345.50" y1="494.30" x2="345.50" y2="477.50" stroke="#6482b8" stroke-width="1.15"/>
<line x1="343.00" y1="477.50" x2="348.00" y2="477.50" stroke="#6482b8" stroke-width="1.15"/>
<line x1="393.50" y1="483.90" x2="393.50" y2="469.50" stroke="#6482b8" stroke-width="1.15"/>
<line x1="391.00" y1="469.50" x2="396.00" y2="469.50" stroke="#6482b8" stroke-width="1.15"/>
<line x1="441.50" y1="473.10" x2="441.50" y2="451.50" stroke="#6482b8" stroke-width="1.15"/>
<line x1="439.00" y1="451.50" x2="444.00" y2="451.50" stroke="#6482b8" stroke-width="1.15"/>
<polyline points="345.00,484.60 393.10,481.20 441.20,479.10" fill="none" stroke="#5eab3b" stroke-width="1.5"/>
<path d="M343.30,486.13L346.70,486.13L345.00,483.07Z" fill="#5eab3b"/>
<path d="M391.40,482.73L394.80,482.73L393.10,479.67Z" fill="#5eab3b"/>
<path d="M439.50,480.63L442.90,480.63L441.20,477.57Z" fill="#5eab3b"/>
<polyline points="345.00,483.90 393.10,478.90 441.20,475.70" fill="none" stroke="#b3143d" stroke-width="1.5"/>
<rect x="343.05" y="481.95" width="3.9" height="3.9" fill="#b3143d"/>
<rect x="391.15" y="476.95" width="3.9" height="3.9" fill="#b3143d"/>
<rect x="439.25" y="473.75" width="3.9" height="3.9" fill="#b3143d"/>
<polyline points="345.00,494.30 393.10,483.90 441.20,473.10" fill="none" stroke="#25437f" stroke-width="1.5"/>
<circle cx="345.00" cy="494.30" r="1.8" fill="#25437f"/>
<circle cx="393.10" cy="483.90" r="1.8" fill="#25437f"/>
<circle cx="441.20" cy="473.10" r="1.8" fill="#25437f"/>
<circle cx="345.00" cy="425.10" r="1.05" fill="#303030"/>
<circle cx="393.10" cy="432.70" r="1.05" fill="#303030"/>
<line x1="465.40" y1="437.40" x2="477.50" y2="437.40" stroke="#25437f" stroke-width="1.5"/>
<circle cx="471.40" cy="437.40" r="1.8" fill="#25437f"/>
<text x="481.00" y="439.90" font-size="7.5" text-anchor="start" fill="#231f20" stroke="#231f20" stroke-width="0.25" textLength="17.90" lengthAdjust="spacingAndGlyphs">Haplo</text>
<line x1="465.40" y1="448.80" x2="477.50" y2="448.80" stroke="#b3143d" stroke-width="1.5"/>
<rect x="469.45" y="446.85" width="3.9" height="3.9" fill="#b3143d"/>
<text x="481.00" y="451.30" font-size="7.5" text-anchor="start" fill="#231f20" stroke="#231f20" stroke-width="0.25" textLength="15.00" lengthAdjust="spacingAndGlyphs">MUD</text>
<line x1="465.40" y1="459.60" x2="477.50" y2="459.60" stroke="#5eab3b" stroke-width="1.5"/>
<path d="M469.90,460.95L472.90,460.95L471.40,458.25Z" fill="#5eab3b"/>
<text x="481.00" y="462.10" font-size="7.5" text-anchor="start" fill="#231f20" stroke="#231f20" stroke-width="0.25" textLength="21.10" lengthAdjust="spacingAndGlyphs">MMUD</text>
<rect x="0" y="0" width="1.5" height="534" fill="#1c1c1c"/>
<rect x="0" y="0" width="520" height="1.4" fill="#1e1e1e"/>
<rect x="518.6" y="0" width="1.4" height="534" fill="#000"/>
<rect x="0" y="532.5" width="520" height="1.5" fill="#000"/>
</svg>
</body></html>
